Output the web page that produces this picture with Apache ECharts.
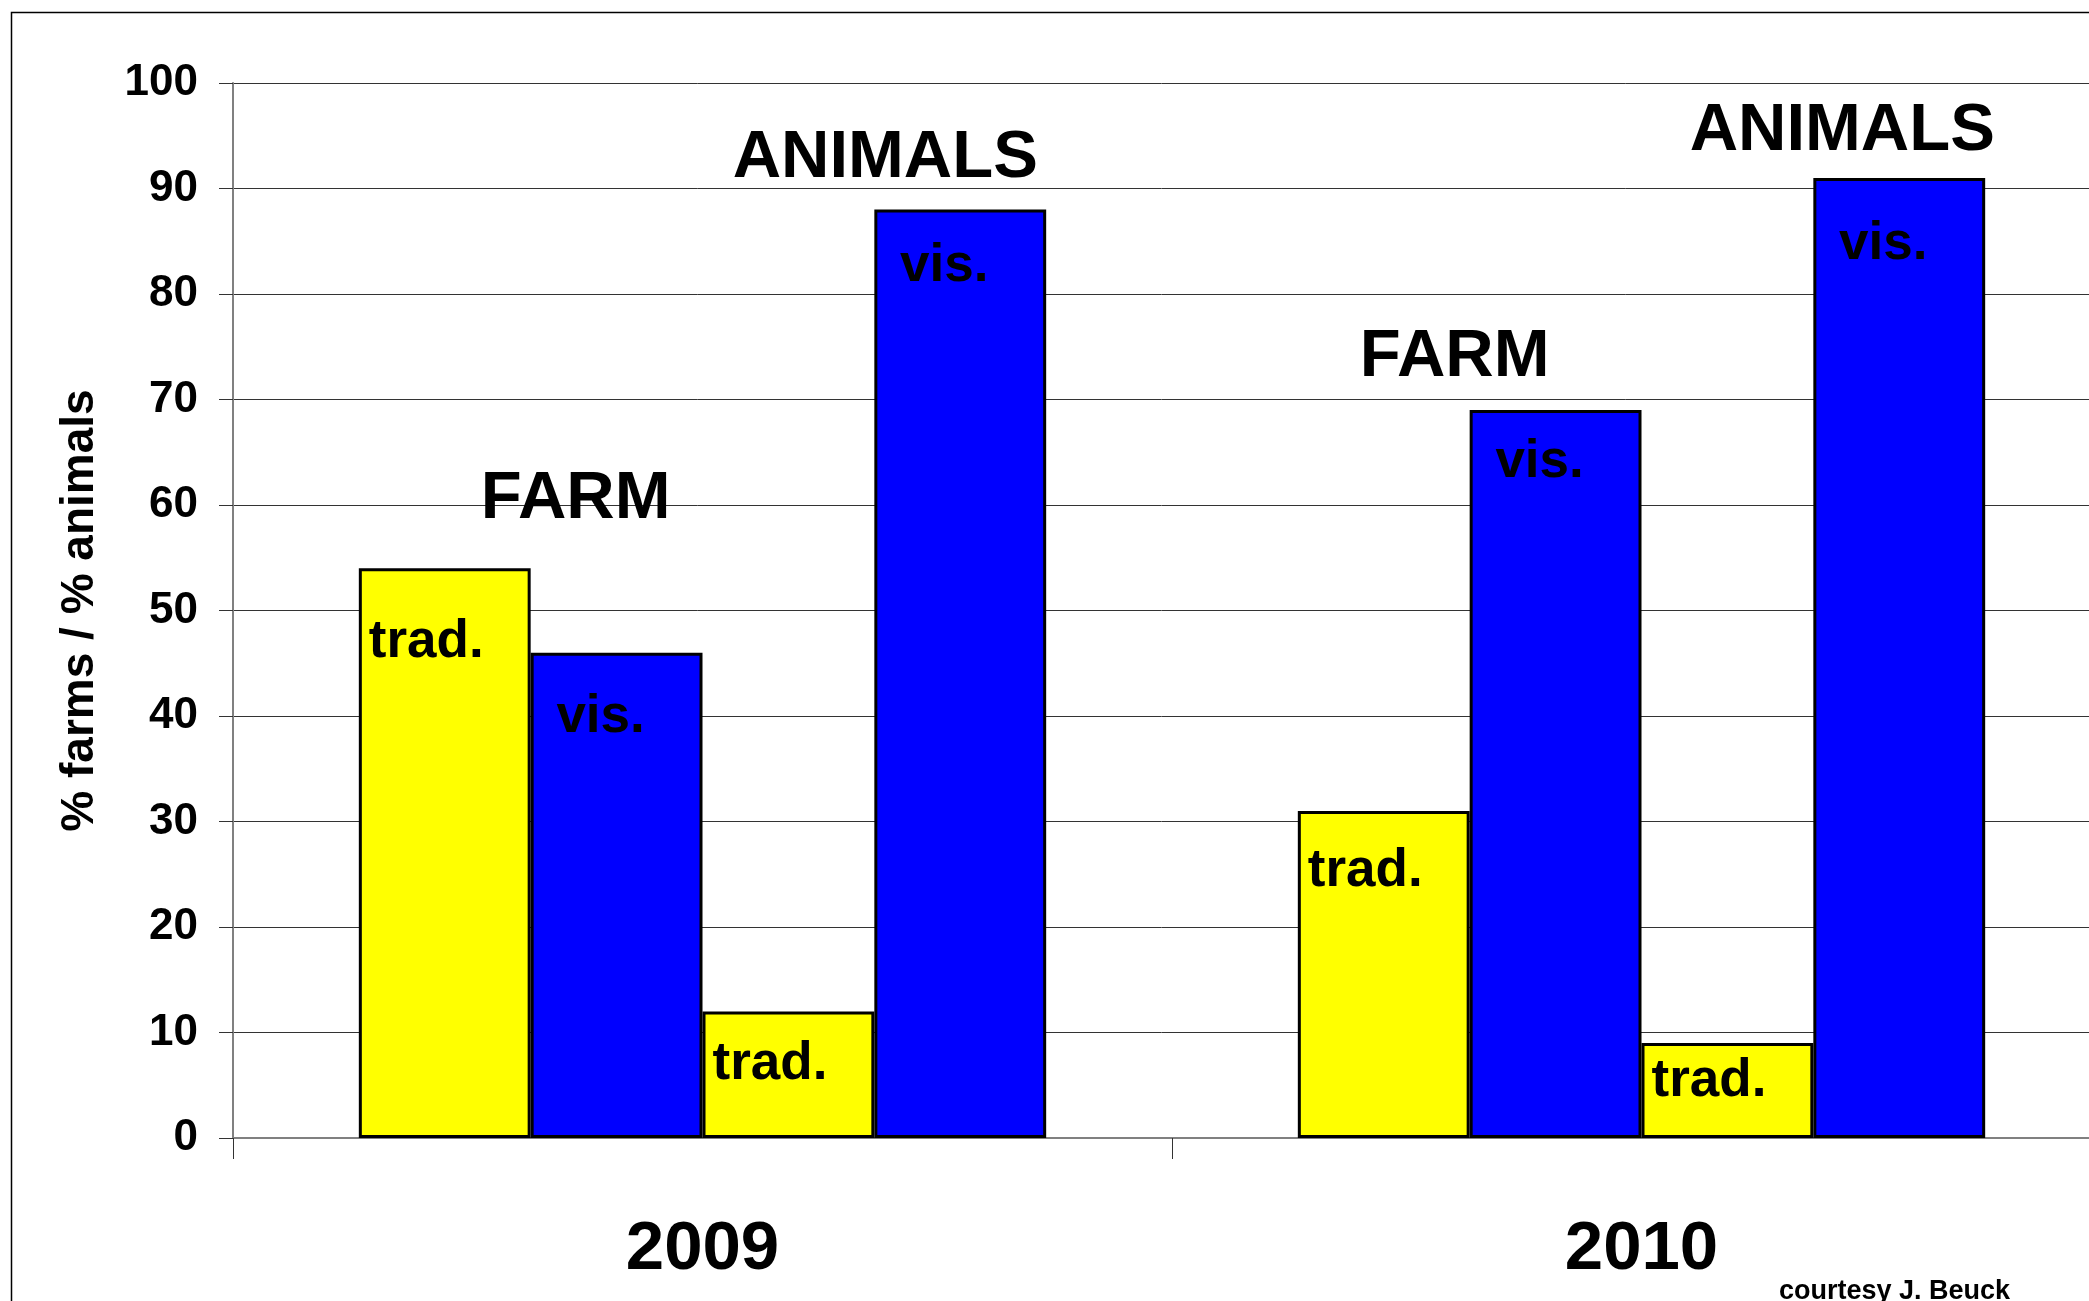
<!DOCTYPE html>
<html>
<head>
<meta charset="utf-8">
<script src="https://cdn.jsdelivr.net/npm/echarts@6/dist/echarts.min.js"></script>
<style>
  html, body { margin: 0; padding: 0; background: #fff; }
  #chart { width: 2089px; height: 1301px; }
</style>
</head>
<body>
<div id="chart"></div>
<script>
const years = ["2009", "2010"];
const farmTrad = [54, 31];
const farmVis = [46, 69];
const animalsTrad = [12, 9];
const animalsVis = [88, 91];
const yTicks = [0, 10, 20, 30, 40, 50, 60, 70, 80, 90, 100];

const FONT = "'Liberation Sans', Arial, sans-serif";
const YELLOW = "#ffff00";
const BLUE = "#0000ff";

// small vertical nudges of the in-bar labels, one per year
const tradNudge = { farm: [18, 4], animals: [-4, -18] };
const visNudge = { farm: [8, -4], animals: [0, 10] };

function barSeries(name, data, color, labelText, isTrad, nudge, marks) {
  const s = {
    name: name,
    type: "bar",
    data: data.map((v, i) => ({
      value: v,
      label: { offset: isTrad ? [0, 20 + nudge[i]] : [-16, nudge[i]] },
    })),
    barGap: "0%",
    barCategoryGap: "26.8%",
    itemStyle: { color: color, borderColor: "#000", borderWidth: 3 },
    label: {
      show: true,
      formatter: labelText,
      color: "#000",
      fontFamily: FONT,
      fontWeight: "bold",
      fontSize: 53,
      position: isTrad ? "insideTopLeft" : "insideTop",
      distance: isTrad ? 10 : 30,
    },
  };
  if (marks) {
    // group titles (FARM / ANIMALS) floating over the bars
    s.markPoint = {
      symbol: "circle",
      symbolSize: 1,
      itemStyle: { color: "transparent" },
      label: {
        show: true,
        position: "inside",
        formatter: (p) => p.name,
        color: "#000",
        fontFamily: FONT,
        fontWeight: "bold",
        fontSize: 67,
      },
      data: marks,
    };
  }
  return s;
}

const chart = echarts.init(document.getElementById("chart"), null, { renderer: "canvas" });

chart.setOption({
  animation: false,
  backgroundColor: "#fff",
  grid: { left: 233, width: 1878, top: 83, bottom: 163, outerBoundsMode: "none", containLabel: false },
  xAxis: {
    type: "category",
    data: years,
    axisLine: { lineStyle: { color: "#808080", width: 2 } },
    axisTick: { show: true, length: 21, lineStyle: { color: "#333", width: 1 } },
    axisLabel: {
      color: "#000",
      fontFamily: FONT,
      fontWeight: "bold",
      fontSize: 69,
      margin: 77,
    },
  },
  yAxis: {
    type: "value",
    min: 0,
    max: 100,
    interval: 10,
    name: "% farms / % animals",
    nameLocation: "middle",
    nameGap: 130,
    nameTextStyle: { color: "#000", fontFamily: FONT, fontWeight: "bold", fontSize: 46 },
    axisLine: { show: true, lineStyle: { color: "#808080", width: 2 } },
    axisTick: { show: true, length: 14, lineStyle: { color: "#333", width: 1 } },
    axisLabel: {
      color: "#000",
      fontFamily: FONT,
      fontWeight: "bold",
      fontSize: 44,
      margin: 35,
      formatter: (v) => (yTicks.includes(v) ? String(v) : ""),
    },
    splitLine: { show: true, lineStyle: { color: "#333", width: 1 } },
  },
  series: [
    barSeries("FARM trad.", farmTrad, YELLOW, "trad.", true, tradNudge.farm),
    barSeries("FARM vis.", farmVis, BLUE, "vis.", false, visNudge.farm, [
      { name: "FARM", coord: ["2009", 60.55], label: { offset: [-41, 0] } },
      { name: "FARM", coord: ["2010", 73.95], label: { offset: [-101, 0] } },
    ]),
    barSeries("ANIMALS trad.", animalsTrad, YELLOW, "trad.", true, tradNudge.animals),
    barSeries("ANIMALS vis.", animalsVis, BLUE, "vis.", false, visNudge.animals, [
      { name: "ANIMALS", coord: ["2009", 92.8], label: { offset: [-75, 0] } },
      { name: "ANIMALS", coord: ["2010", 95.4], label: { offset: [-57, 0] } },
    ]),
  ],
  graphic: [
    {
      type: "rect",
      left: 9,
      top: 10,
      shape: { width: 2200, height: 1400 },
      style: { fill: "none", stroke: "#000", lineWidth: 1.5 },
      silent: true,
    },
    {
      type: "text",
      left: 1779,
      top: 1278,
      style: {
        text: "courtesy J. Beuck",
        fill: "#000",
        font: "bold 27px " + FONT,
      },
    },
  ],
});
</script>
</body>
</html>
